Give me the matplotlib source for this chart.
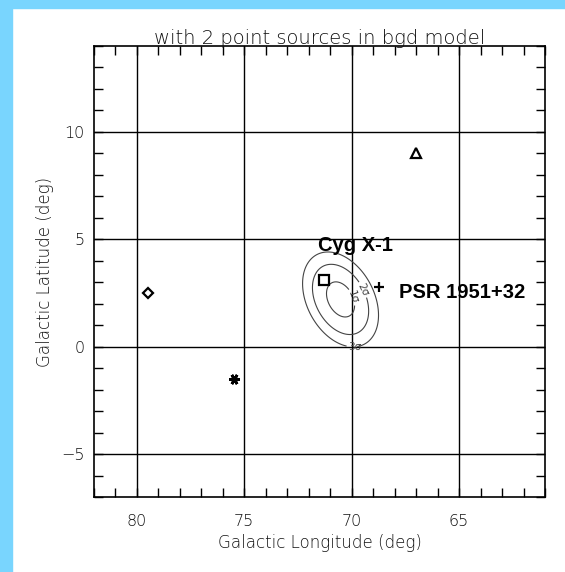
import numpy as np
import matplotlib
matplotlib.use("Agg")
from matplotlib import pyplot as plt
from matplotlib.patches import Rectangle

# source positions (galactic l, b)
src_names = ["diamond", "asterisk", "triangle", "cygx1", "psr"]
src_l = [79.5, 75.5, 67.0, 71.3, 68.75]
src_b = [2.5, -1.5, 9.0, 3.1, 2.8]

# labelled sources
label_text = ["Cyg X-1", "PSR 1951+32"]
label_l = [71.55, 67.8]
label_b = [4.45, 2.27]

# error contours: centre, tilt, outer semi-axes
cont_l0 = 70.52
cont_b0 = 2.2
cont_tilt = 28.0
cont_a = 2.36
cont_c = 1.56
sigma_names = ["1σ", "2σ", "3σ"]
sigma_scale = [0.37, 0.74, 1.0]
sigma_label_l = [70.04, 69.58, 69.85]
sigma_label_b = [2.27, 2.6, 0.13]

x_major = [80, 75, 70, 65]
y_major = [-5, 0, 5, 10]

W, H = 565, 572


def main():
    fig = plt.figure(figsize=(W / 100, H / 100), dpi=100)
    fig.patch.set_facecolor("white")
    blue = "#79d5fe"
    fig.patches.append(Rectangle((0, 0), 12 / W, 1, transform=fig.transFigure,
                                 color=blue, zorder=0))
    fig.patches.append(Rectangle((0, 1 - 8 / H), 1, 8 / H, transform=fig.transFigure,
                                 color=blue, zorder=0))

    ax = fig.add_axes([94 / W, 75 / H, 451 / W, 451 / H])
    ax.set_xlim(82, 61)
    ax.set_ylim(-7, 14)

    txt = "#111111"
    ax.set_xticks(x_major)
    ax.set_yticks(y_major)
    ax.set_xticks(np.arange(61, 83), minor=True)
    ax.set_yticks(np.arange(-7, 15), minor=True)
    ax.tick_params(which="both", direction="in", top=True, right=True,
                   length=6.5, width=1, colors="k", labelcolor=txt, labelsize=11.5)
    ax.tick_params(axis="x", pad=12)
    ax.tick_params(axis="y", pad=7)
    for lab in ax.get_xticklabels() + ax.get_yticklabels():
        lab.set_fontweight("light")
    ax.grid(True, which="major", color="k", lw=1.0)
    for s in ax.spines.values():
        s.set_linewidth(1.2)

    # contours
    gl = np.linspace(65, 76, 400)
    gb = np.linspace(-3, 7, 400)
    L, B = np.meshgrid(gl, gb)
    t = np.radians(cont_tilt)
    dl = L - cont_l0
    db = B - cont_b0
    u = dl * np.sin(t) + db * np.cos(t)
    v = dl * np.cos(t) - db * np.sin(t)
    q = (u / cont_a) ** 2 + (v / cont_c) ** 2
    levels = [s ** 2 for s in sigma_scale]
    cs = ax.contour(L, B, q, levels=levels, colors="#444444", linewidths=0.8)
    fmt = {lev: name for lev, name in zip(cs.levels, sigma_names)}
    ax.clabel(cs, fmt=fmt, fontsize=7.5, inline=True, inline_spacing=2,
              manual=list(zip(sigma_label_l, sigma_label_b)))

    # sources
    ax.plot(src_l[0], src_b[0], "D", ms=4.6, mfc="none", mec="k", mew=1.6)
    ax.plot(src_l[1], src_b[1], marker=(6, 2, 90), ms=7.5, mec="k", mew=2.0,
            ls="none")
    ax.plot(src_l[2], src_b[2], "^", ms=6.5, mfc="none", mec="k", mew=1.6)
    ax.plot(src_l[3], src_b[3], "s", ms=6.7, mfc="none", mec="k", mew=1.6)
    ax.plot(src_l[4], src_b[4], "+", ms=7.5, mec="k", mew=1.6)

    for t_, l_, b_ in zip(label_text, label_l, label_b):
        ax.text(l_, b_, t_, ha="left", va="baseline", fontsize=14.5,
                fontweight="bold", family="Liberation Sans", color="k")

    ax.text(0.5, 1 + 2 / 451, "with 2 point sources in bgd model",
            transform=ax.transAxes, ha="center", va="baseline",
            fontsize=14, fontweight="light", color=txt)
    fig.text(320 / W, 1 - 547.6 / H, "Galactic Longitude (deg)", ha="center",
             va="baseline", fontsize=12, fontweight="light", color=txt)
    fig.text(45 / W, 1 - 271.5 / H, "Galactic Latitude (deg)", ha="center",
             va="center", rotation=90, fontsize=12, fontweight="light", color=txt)

    fig.savefig("out.png", dpi=100)


if __name__ == "__main__":
    main()
